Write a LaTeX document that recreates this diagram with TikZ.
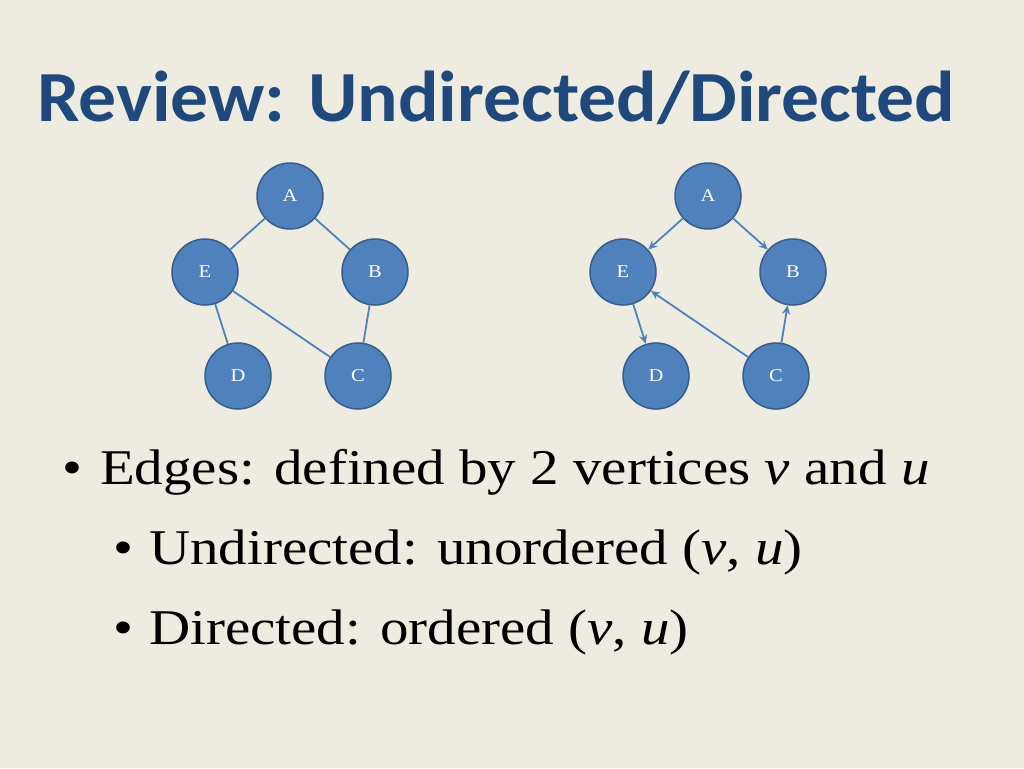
\documentclass[tikz,border=0pt]{standalone}
\usepackage{fontspec}
\setmainfont[FakeStretch=1.14]{Liberation Serif}
\newfontfamily\titlefont[FakeStretch=1.05]{Carlito}
\usetikzlibrary{positioning,arrows.meta}
\definecolor{bgc}{HTML}{EEECE1}
\definecolor{titlec}{HTML}{1F497D}
\definecolor{vfill}{HTML}{4F81BD}
\definecolor{vline}{HTML}{385D8A}
\tikzset{
  vert/.style = {circle, fill = vfill, draw = vline, line width = 1.5pt, minimum size = 66pt, inner sep = 0pt, text = white, font = \fontsize{18}{18}\selectfont},
  edge/.style = {draw = vfill, line width = 1.8pt},
  arc/.style = {edge, -{Stealth[length = 9pt, width = 8pt]}},
  txt/.style = {anchor = base west, inner sep = 0pt, font = \fontsize{50}{50}\selectfont}
}
\begin{document}
\begin{tikzpicture}[x = 1pt, y = -1pt]
    \fill[bgc] (0,0) rectangle (1024,768);
    \useasboundingbox (0,0) rectangle (1024,768);
    \node[anchor = base west, inner sep = 0pt, text = titlec, font = \titlefont\bfseries\fontsize{72}{72}\selectfont] (title) at (37,121) {Review: Undirected/Directed};
    % undirected
    \node[vert] (a) at (290,196) {A};
    \node[vert] (e) at (205,272) {E};
    \node[vert] (b) at (375,272) {B};
    \node[vert] (d) at (238,376) {D};
    \node[vert] (c) at (358,376) {C};
    \draw[edge] (a) -- (e);
    \draw[edge] (a) -- (b);
    \draw[edge] (e) -- (d);
    \draw[edge] (e) -- (c);
    \draw[edge] (c) -- (b);
    % directed
    \node[vert] (a2) at (708,196) {A};
    \node[vert] (e2) at (623,272) {E};
    \node[vert] (b2) at (793,272) {B};
    \node[vert] (d2) at (656,376) {D};
    \node[vert] (c2) at (776,376) {C};
    \draw[arc] (a2) -- (e2);
    \draw[arc] (a2) -- (b2);
    \draw[arc] (e2) -- (d2);
    \draw[arc] (c2) -- (e2);
    \draw[arc] (c2) -- (b2);
    % bullets
    \node[txt] (l1) at (62,484) {\textbullet\hspace{18pt}Edges: defined by 2 vertices \textit{v} and \textit{u}};
    \node[txt] (l2) at (113,564) {\textbullet\hspace{16pt}Undirected: unordered (\textit{v}, \textit{u})};
    \node[txt] (l3) at (113,644) {\textbullet\hspace{16pt}Directed: ordered (\textit{v}, \textit{u})};
\end{tikzpicture}
\end{document}
